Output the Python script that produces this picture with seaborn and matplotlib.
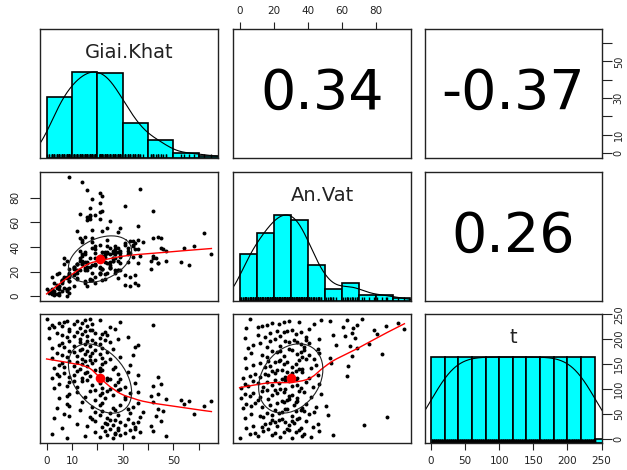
import numpy as np
import pandas as pd
import matplotlib
matplotlib.use("Agg")
import matplotlib.pyplot as plt
import seaborn as sns

# values (t is just the row index 1..241)
names = ["Giai.Khat", "An.Vat", "t"]
corr_text = {(0, 1): "0.34", (0, 2): "-0.37", (1, 2): "0.26"}

giai_khat = [
    26, 8, 34, 21, 47, 15, 29, 24, 27, 2, 31, 27, 19, 37, 23, 42, 28, 33, 25, 35,
    28, 6, 35, 22, 41, 16, 31, 26, 24, 12, 34, 23, 29, 36, 19, 45, 25, 27, 18, 32,
    24, 3, 37, 17, 43, 9, 28, 21, 58, 7, 33, 25, 19, 38, 22, 46, 27, 13, 44, 32,
    26, 4, 34, 18, 62, 9, 29, 21, 54, 8, 36, 22, 14, 42, 56, 65, 53, 19, 47, 31,
    23, 5, 31, 15, 41, 8, 26, 21, 44, 9, 33, 22, 12, 36, 24, 17, 28, 19, 25, 29,
    22, 3, 31, 12, 42, 8, 27, 18, 45, 5, 35, 21, 9, 28, 14, 11, 24, 16, 25, 29,
    14, 2, 24, 9, 44, 5, 17, 11, 36, 4, 28, 15, 7, 32, 16, 12, 21, 19, 22, 26,
    13, 3, 21, 7, 27, 11, 16, 5, 33, 14, 22, 6, 18, 12, 23, 9, 15, 19, 17, 25,
    14, 2, 22, 8, 29, 12, 17, 6, 34, 15, 21, 4, 18, 11, 24, 9, 16, 19, 13, 26,
    14, 2, 22, 7, 35, 11, 17, 5, 36, 15, 21, 6, 19, 13, 25, 9, 16, 18, 23, 28,
    13, 1, 21, 8, 32, 11, 16, 6, 24, 14, 22, 4, 19, 12, 23, 9, 15, 18, 17, 27,
    9, 1, 13, 3, 25, 6, 16, 2, 42, 11, 18, 5, 14, 7, 29, 8, 12, 21, 15, 17,
    0,
]
an_vat = [
    31, 0, 42, 24, 37, 11, 55, 19, 38, 6, 9, 21, 26, 33, 14, 47, 29, 35, 28, 17,
    36, 4, 43, 13, 22, 8, 73, 29, 46, 15, 32, 18, 21, 27, 31, 39, 23, 19, 25, 34,
    35, 3, 87, 14, 31, 12, 52, 19, 41, 7, 16, 23, 25, 44, 33, 38, 36, 21, 27, 28,
    37, 2, 45, 13, 51, 7, 32, 18, 39, 4, 9, 22, 26, 33, 25, 34, 28, 11, 29, 17,
    34, 1, 42, 12, 29, 6, 31, 19, 48, 3, 8, 22, 26, 38, 35, 13, 21, 16, 24, 27,
    36, 1, 43, 14, 31, 5, 34, 19, 47, 3, 11, 23, 16, 39, 29, 8, 27, 21, 25, 33,
    34, 2, 41, 12, 27, 6, 63, 17, 46, 9, 15, 21, 31, 37, 28, 19, 33, 25, 22, 35,
    37, 4, 42, 15, 31, 18, 64, 8, 45, 26, 33, 12, 54, 21, 28, 17, 23, 35, 24, 39,
    44, 3, 53, 16, 37, 26, 66, 13, 41, 34, 84, 7, 47, 22, 36, 19, 24, 38, 31, 29,
    46, 5, 69, 16, 38, 24, 65, 8, 57, 36, 76, 12, 41, 29, 34, 18, 27, 39, 32, 21,
    47, 3, 68, 15, 39, 24, 62, 11, 55, 33, 81, 18, 66, 26, 36, 22, 28, 79, 31, 41,
    97, 4, 67, 11, 61, 13, 86, 16, 69, 23, 44, 19, 93, 26, 35, 29, 53, 63, 48, 72,
    6,
]
t = np.arange(1, len(giai_khat) + 1)

df = pd.DataFrame({"Giai.Khat": giai_khat, "An.Vat": an_vat, "t": t}).astype(float)

hist_bins = {
    "Giai.Khat": np.arange(0, 71, 10),
    "An.Vat": np.arange(0, 101, 10),
    "t": np.arange(0, 261, 20),
}
ticks = {
    "Giai.Khat": ([0, 10, 20, 30, 40, 50, 60], ["0", "10", "", "30", "", "50", ""]),
    "An.Vat": ([0, 20, 40, 60, 80], ["0", "20", "40", "60", "80"]),
    "t": ([0, 50, 100, 150, 200, 250], ["0", "50", "100", "150", "200", "250"]),
}


def lims(name):
    lo, hi = df[name].min(), df[name].max()
    pad = 0.04 * (hi - lo)
    return lo - pad, hi + pad


def lowess(x, y, f=2 / 3, iters=3):
    order = np.argsort(x, kind="stable")
    x = np.asarray(x, float)[order]
    y = np.asarray(y, float)[order]
    n = len(x)
    ns = max(min(int(round(f * n)), n), 2)
    robust = np.ones(n)
    fit = np.zeros(n)
    for _ in range(iters + 1):
        for k in range(n):
            dist = np.abs(x - x[k])
            h = np.sort(dist)[ns - 1]
            if h > 0:
                u = dist / h
                w = np.where(u < 1, (1 - u ** 3) ** 3, 0.0)
            else:
                w = (dist == 0).astype(float)
            w = w * robust
            sw = w.sum()
            xm = (w * x).sum() / sw
            ym = (w * y).sum() / sw
            sxx = (w * (x - xm) ** 2).sum()
            if sxx > 1e-9:
                b = (w * (x - xm) * (y - ym)).sum() / sxx
                fit[k] = ym + b * (x[k] - xm)
            else:
                fit[k] = ym
        res = y - fit
        s = np.median(np.abs(res))
        if s == 0:
            break
        u = np.clip(res / (6 * s), -1, 1)
        robust = (1 - u ** 2) ** 2
    return x, fit


def ellipse(xm, ym, xs, ys, r, segments=51):
    ang = np.arange(segments + 1) * 2 * np.pi / segments
    circle = np.column_stack([np.cos(ang), np.sin(ang)])
    th = np.sign(r) / np.sqrt(2) if abs(r) > 0 else 1 / np.sqrt(2)
    shape = np.diag([np.sqrt(1 + r), np.sqrt(1 - r)]) @ np.array([[th, th], [-th, th]])
    e = circle @ shape
    return e[:, 0] * xs + xm, e[:, 1] * ys + ym


def density_curve(v):
    sd = v.std(ddof=1)
    q75, q25 = np.percentile(v, [75, 25])
    bw = 1.2 * 1.06 * min(sd, (q75 - q25) / 1.34) * len(v) ** -0.2
    grid = np.linspace(v.min() - 3 * bw, v.max() + 3 * bw, 512)
    dens = np.exp(-0.5 * ((grid[:, None] - v[None, :]) / bw) ** 2).sum(axis=1)
    return grid, dens / dens.max()


fig = plt.figure(figsize=(6.27, 4.70), dpi=100)
lefts = [40, 233, 425]
widths = [178, 178, 177]
tops = [29, 172, 314]
height = 129

axes = {}
for i in range(3):
    for j in range(3):
        ax = fig.add_axes([lefts[j] / 627, (470 - tops[i] - height) / 470,
                           widths[j] / 627, height / 470])
        for sp in ax.spines.values():
            sp.set_linewidth(1.0)
            sp.set_color("#222222")
        axes[i, j] = ax

for i, yname in enumerate(names):
    for j, xname in enumerate(names):
        ax = axes[i, j]
        if i == j:
            v = df[xname].to_numpy()
            edges = hist_bins[xname]
            # right-closed bins, like R's hist()
            binned = pd.Series(pd.cut(v, edges, right=True, include_lowest=True))
            counts = binned.value_counts(sort=False).sort_index().to_numpy()
            top = counts.max()
            ax.bar(edges[:-1], counts, width=np.diff(edges), align="edge",
                   color="cyan", edgecolor="black", linewidth=1.2)
            gx, gy = density_curve(v)
            ax.plot(gx, gy * top, color="black", lw=0.8)
            sns.rugplot(x=v, height=0.03, color="black", lw=0.8, ax=ax)
            ax.set_xlim(lims(xname))
            ax.set_ylim(0, 1.5 * top)
            ax.text(0.5, 0.82, xname, transform=ax.transAxes, ha="center", va="center",
                    fontsize=14, color="#222222")
        elif i > j:
            x = df[xname].to_numpy()
            y = df[yname].to_numpy()
            sns.scatterplot(x=x, y=y, s=8, color="black", linewidth=0, ax=ax)
            lx, ly = lowess(x, y)
            ax.plot(lx, ly, color="red", lw=1)
            r = np.corrcoef(x, y)[0, 1]
            ex, ey = ellipse(x.mean(), y.mean(), x.std(ddof=1), y.std(ddof=1), r)
            ax.plot(ex, ey, color="#222222", lw=0.8)
            ax.scatter([x.mean()], [y.mean()], s=35, color="red", zorder=5)
            ax.set_xlim(lims(xname))
            ax.set_ylim(lims(yname))
        else:
            ax.set_xlim(lims(xname))
            ax.set_ylim(lims(yname))
            ax.text(0.5, 0.5, corr_text[i, j], transform=ax.transAxes, ha="center",
                    va="center", fontsize=40, color="black")
        ax.set_xlabel("")
        ax.set_ylabel("")
        ax.set_xticks([])
        ax.set_yticks([])

tick_style = dict(length=5, width=0.8, labelsize=7.5, colors="#222222")

# bottom axes
for j in (0, 2):
    ax = axes[2, j]
    pos, lab = ticks[names[j]]
    ax.set_xticks(pos, lab)
    ax.tick_params(axis="x", pad=4, **tick_style)

# top axis
ax = axes[0, 1]
pos, lab = ticks["An.Vat"]
ax.xaxis.tick_top()
ax.set_xticks(pos, lab)
ax.tick_params(axis="x", pad=4, **tick_style)

# left axis
ax = axes[1, 0]
pos, lab = ticks["An.Vat"]
ax.set_yticks(pos, lab)
ax.tick_params(axis="y", pad=7, **{**tick_style, "length": 7})
plt.setp(ax.get_yticklabels(), rotation=90, va="center")

# right axes
ax = axes[0, 2]
pos, lab = ticks["Giai.Khat"]
ax.yaxis.tick_right()
ax.set_yticks(pos, lab)
ax.tick_params(axis="y", pad=1.5, **{**tick_style, "length": 7, "labelsize": 7})
plt.setp(ax.get_yticklabels(), rotation=90, va="center")

ax2 = axes[2, 2].twinx()
ax2.set_ylim(lims("t"))
pos, lab = ticks["t"]
ax2.set_yticks(pos, lab)
ax2.tick_params(axis="y", pad=1.5, **{**tick_style, "length": 7, "labelsize": 7})
plt.setp(ax2.get_yticklabels(), rotation=90, va="center")
for sp in ax2.spines.values():
    sp.set_visible(False)

fig.savefig("out.png", dpi=100)
